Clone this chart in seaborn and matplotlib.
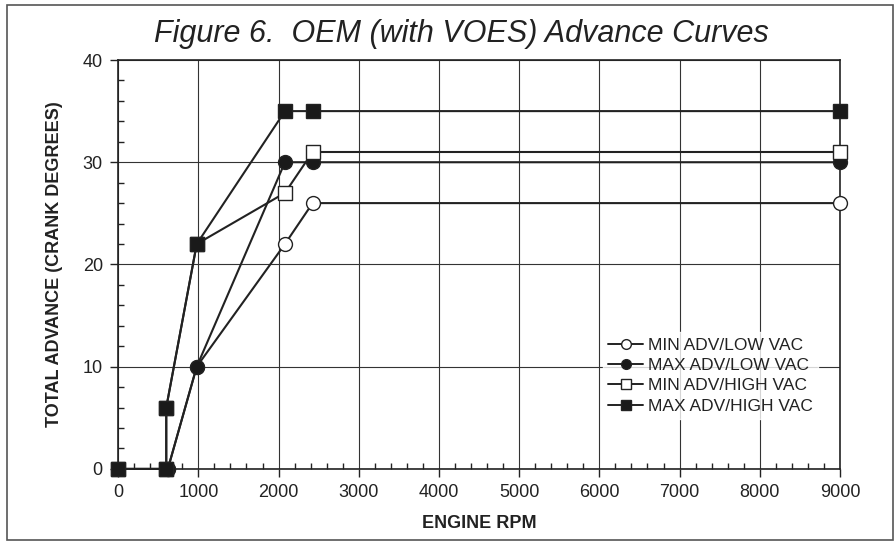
import pandas as pd
import matplotlib.pyplot as plt
import seaborn as sns
from matplotlib.ticker import MultipleLocator
from matplotlib.patches import Rectangle

# values
min_low_rpm = [620, 980, 2080, 2425, 9000]
min_low_adv = [0, 10, 22, 26, 26]
max_low_rpm = [620, 980, 2080, 2425, 9000]
max_low_adv = [0, 10, 30, 30, 30]
min_high_rpm = [0, 600, 600, 980, 2080, 2425, 9000]
min_high_adv = [0, 0, 6, 22, 27, 31, 31]
max_high_rpm = [0, 600, 600, 980, 2080, 2425, 9000]
max_high_adv = [0, 0, 6, 22, 35, 35, 35]

series = [
    ("MIN ADV/LOW VAC", min_low_rpm, min_low_adv, "o", "white"),
    ("MAX ADV/LOW VAC", max_low_rpm, max_low_adv, "o", "#1a1a1a"),
    ("MIN ADV/HIGH VAC", min_high_rpm, min_high_adv, "s", "white"),
    ("MAX ADV/HIGH VAC", max_high_rpm, max_high_adv, "s", "#1a1a1a"),
]

sns.set_style("white")
plt.rcParams['font.family'] = ['Liberation Sans', 'DejaVu Sans']
ink = "#222222"

fig = plt.figure(figsize=(8.95, 5.43), dpi=100)
ax = fig.add_axes([0.132, 0.1365, 0.8065, 0.753])

for i, (name, xs, ys, mk, fc) in enumerate(series):
    df = pd.DataFrame({"rpm": xs, "adv": ys})
    sns.lineplot(data=df, x="rpm", y="adv", ax=ax, sort=False, estimator=None,
                 color=ink, linewidth=1.5, marker=mk, markersize=10,
                 markerfacecolor=fc, markeredgecolor=ink, markeredgewidth=1.0,
                 label=name, zorder=3 + i, clip_on=False)

ax.set_xlim(0, 9000)
ax.set_ylim(0, 40)
ax.xaxis.set_major_locator(MultipleLocator(1000))
ax.xaxis.set_minor_locator(MultipleLocator(200))
ax.yaxis.set_major_locator(MultipleLocator(10))
ax.yaxis.set_minor_locator(MultipleLocator(2))
ax.grid(True, which="major", color="#333333", linewidth=0.8)
ax.tick_params(which="major", direction="out", length=6, width=1, color=ink,
               labelsize=13, labelcolor=ink, bottom=True, left=True, pad=5)
ax.tick_params(which="minor", direction="in", length=4, width=1, color=ink,
               bottom=True, left=True)
for sp in ax.spines.values():
    sp.set_color(ink)
    sp.set_linewidth(1.2)

ax.set_xlabel("ENGINE RPM", fontsize=13, fontweight="bold", color=ink, labelpad=10)
ax.set_ylabel("TOTAL ADVANCE (CRANK DEGREES)", fontsize=13, fontweight="bold",
              color=ink, labelpad=14)

leg = ax.legend(loc="upper left", bbox_to_anchor=(0.66, 0.355), frameon=True,
                fontsize=12.5, handlelength=2.0, labelspacing=0.3,
                borderpad=0.3, handletextpad=0.3, fancybox=False)
leg.get_frame().set_facecolor("white")
leg.get_frame().set_edgecolor("white")
for t in leg.get_texts():
    t.set_color(ink)
for h in leg.legend_handles:
    h.set_markersize(7)
    h.set_linewidth(1.4)

fig.text(0.515, 0.938, "Figure 6.  OEM (with VOES) Advance Curves",
         ha="center", va="center", fontsize=22, style="italic", color=ink)

fig.patches.append(Rectangle((0.008, 0.006), 0.99, 0.985, transform=fig.transFigure,
                             fill=False, edgecolor="#555555", linewidth=1.2))

fig.savefig("out.png", dpi=100)
